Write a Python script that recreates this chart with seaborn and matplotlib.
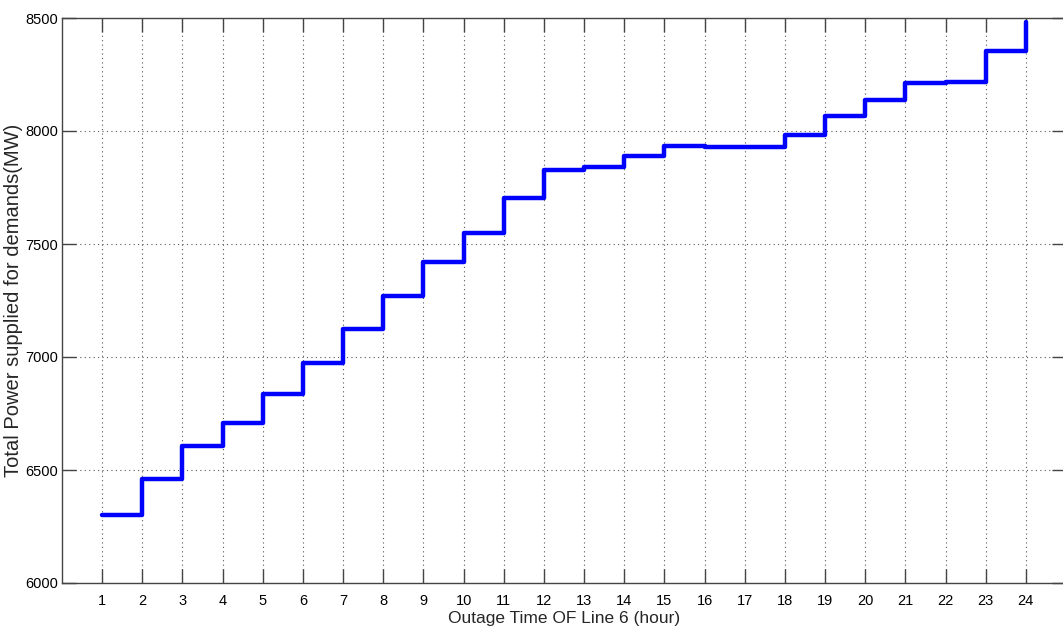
import matplotlib
matplotlib.use("Agg")
import matplotlib.pyplot as plt
import seaborn as sns
import pandas as pd

hours = list(range(1, 25))
power = [6300, 6460, 6607, 6710, 6837, 6972, 7124, 7272, 7419, 7550, 7702, 7827,
         7839, 7889, 7935, 7928, 7928, 7984, 8066, 8137, 8213, 8217, 8354, 8482]
yticks = [6000, 6500, 7000, 7500, 8000, 8500]

sns.set_theme(style="white")
plt.rcParams['font.family'] = ['Liberation Sans', 'DejaVu Sans']

df = pd.DataFrame({"hour": hours, "power": power})

fig = plt.figure(figsize=(10.63, 6.28), dpi=100)
ax = fig.add_axes([62/1063, 1 - 583/628, (1066 - 62)/1063, (583 - 18)/628])

sns.lineplot(data=df, x="hour", y="power", ax=ax, estimator=None,
             color="#0000ff", linewidth=3.2, drawstyle="steps-post")

ax.set_xlim(0, 25)
ax.set_ylim(6000, 8500)
ax.set_xticks(hours)
ax.set_xticklabels([str(h) for h in hours])
ax.set_yticks(yticks)
ax.set_yticklabels([str(v) for v in yticks])

ax.grid(True, linestyle=(0, (1, 3)), color="#555555", linewidth=0.8)
for s in ax.spines.values():
    s.set_color("#444444")
    s.set_linewidth(1.0)
ax.tick_params(direction="in", length=10, width=1.0, color="#444444",
               top=True, right=True, labelsize=10.5, labelcolor="black",
               bottom=True, left=True)
ax.tick_params(axis="x", pad=8)
ax.tick_params(axis="y", pad=3)

ax.set_xlabel("Outage Time OF Line 6 (hour)", fontsize=12.5, labelpad=2)
ax.set_ylabel("Total Power supplied for demands(MW)", fontsize=14.5)
ax.yaxis.set_label_coords(-0.039, 0.5)

fig.savefig("out.png", dpi=100)
